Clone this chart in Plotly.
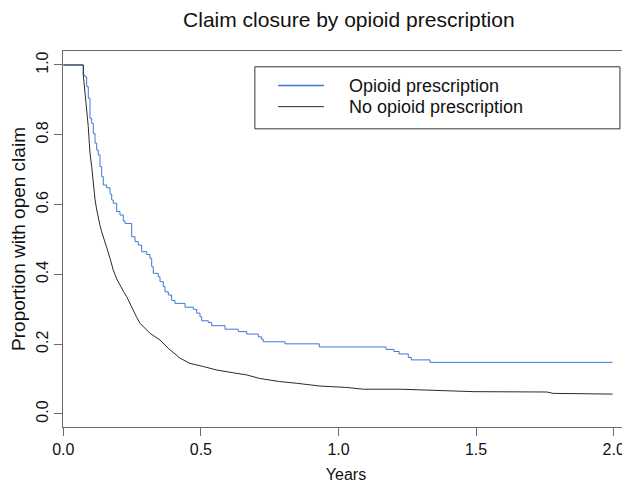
import plotly.graph_objects as go

# Kaplan-Meier style survival estimates
opioid_years = [0.0, 0.0727, 0.0789, 0.0850, 0.0908, 0.0970, 0.1032, 0.1090, 0.1152, 0.1214,
                0.1272, 0.1334, 0.1395, 0.1453, 0.1577, 0.1697, 0.1759, 0.1817, 0.1940, 0.2060,
                0.2180, 0.2242, 0.2485, 0.2605, 0.2725, 0.2849, 0.3031, 0.3150, 0.3212, 0.3270,
                0.3452, 0.3514, 0.3634, 0.3695, 0.3815, 0.3939, 0.4059, 0.4422, 0.4724, 0.4847,
                0.4967, 0.5029, 0.5269, 0.5392, 0.5876, 0.6359, 0.6664, 0.7086, 0.7209, 0.7267,
                0.8056, 0.9302, 1.1726, 1.2016, 1.2198, 1.2536, 1.2645, 1.3325, 1.9956]
opioid_surv = [1.000, 0.971, 0.966, 0.938, 0.905, 0.847, 0.833, 0.804, 0.776, 0.756,
               0.742, 0.709, 0.680, 0.656, 0.648, 0.630, 0.613, 0.604, 0.580, 0.570,
               0.553, 0.546, 0.508, 0.494, 0.484, 0.465, 0.457, 0.446, 0.422, 0.403,
               0.393, 0.379, 0.365, 0.350, 0.341, 0.325, 0.317, 0.306, 0.300, 0.289,
               0.279, 0.267, 0.262, 0.253, 0.243, 0.236, 0.229, 0.221, 0.214, 0.207,
               0.201, 0.192, 0.185, 0.179, 0.172, 0.162, 0.155, 0.148, 0.148]

no_opioid_years = [0.0, 0.0727, 0.0727, 0.0789, 0.0850, 0.0908, 0.0945, 0.0970, 0.1032, 0.1090,
                   0.1152, 0.1214, 0.1272, 0.1334, 0.1395, 0.1453, 0.1515, 0.1577, 0.1697, 0.1817,
                   0.1940, 0.2060, 0.2180, 0.2304, 0.2424, 0.2544, 0.2667, 0.2787, 0.3150, 0.3514,
                   0.3815, 0.4241, 0.4604, 0.5087, 0.5574, 0.6177, 0.6664, 0.7122, 0.7848, 0.8481,
                   0.9328, 1.0298, 1.0901, 1.2235, 1.3932, 1.4898, 1.7566, 1.7805, 1.9956]
no_opioid_surv = [1.000, 1.000, 0.971, 0.919, 0.880, 0.823, 0.776, 0.747, 0.709, 0.660,
                  0.615, 0.585, 0.560, 0.540, 0.522, 0.505, 0.490, 0.477, 0.446, 0.412,
                  0.387, 0.368, 0.352, 0.336, 0.315, 0.298, 0.277, 0.260, 0.231, 0.212,
                  0.188, 0.160, 0.145, 0.136, 0.126, 0.118, 0.112, 0.102, 0.093, 0.088,
                  0.080, 0.076, 0.071, 0.071, 0.067, 0.064, 0.063, 0.059, 0.057]

x_ticks = [0.0, 0.5, 1.0, 1.5, 2.0]
x_tick_labels = ["0.0", "0.5", "1.0", "1.5", "2.0"]
y_ticks = [0.0, 0.2, 0.4, 0.6, 0.8, 1.0]
y_tick_labels = ["0.0", "0.2", "0.4", "0.6", "0.8", "1.0"]

series_names = ["Opioid prescription", "No opioid prescription"]
series_colors = ["#3C78D8", "#2b2b2b"]

FONT = "Liberation Sans, Arial, sans-serif"

fig = go.Figure()
fig.add_trace(go.Scatter(x=opioid_years, y=opioid_surv, mode="lines",
                         line=dict(color=series_colors[0], width=1, shape="hv"),
                         name=series_names[0], showlegend=False))
fig.add_trace(go.Scatter(x=no_opioid_years, y=no_opioid_surv, mode="lines",
                         line=dict(color=series_colors[1], width=1),
                         name=series_names[1], showlegend=False))

axis_color = "#6a6a6a"
fig.update_layout(
    width=622, height=477,
    margin=dict(l=55, r=1, t=43, b=58),
    paper_bgcolor="white", plot_bgcolor="white",
    font=dict(family=FONT, color="#111111"),
    title=dict(text="Claim closure by opioid prescription", x=0.548, xanchor="center",
               y=0.975, yanchor="middle", font=dict(size=21, family=FONT, color="#111111")),
    xaxis=dict(range=[-0.0011, 2.0556], tickmode="array", tickvals=x_ticks, ticktext=x_tick_labels,
               showgrid=False, zeroline=False, showline=True, mirror=True, linecolor=axis_color,
               linewidth=1, ticks="outside", ticklen=8, tickcolor=axis_color,
               tickfont=dict(size=16, family=FONT, color="#111111"),
               title=dict(text="Years", font=dict(size=16, family=FONT, color="#111111"), standoff=11)),
    yaxis=dict(range=[-0.0373, 1.0401], tickmode="array", tickvals=y_ticks, ticktext=y_tick_labels,
               showgrid=False, zeroline=False, showline=True, mirror=True, linecolor=axis_color,
               linewidth=1, ticks="outside", ticklen=8, tickcolor=axis_color, tickangle=-90,
               tickfont=dict(size=16, family=FONT, color="#111111"),
               title=dict(text="Proportion with open claim", font=dict(size=19, family=FONT, color="#111111"),
                          standoff=3)),
)

# Legend drawn as a boxed key (paper coordinates)
leg_x0, leg_x1 = 0.339, 0.984
leg_y0, leg_y1 = 0.793, 0.958
fig.add_shape(type="rect", xref="paper", yref="paper", x0=leg_x0, x1=leg_x1, y0=leg_y0, y1=leg_y1,
              line=dict(color="#333333", width=1), fillcolor="white", layer="above")
row_y = [0.908, 0.852]
for name, color, yy in zip(series_names, series_colors, row_y):
    fig.add_shape(type="line", xref="paper", yref="paper", x0=0.380, x1=0.461, y0=yy, y1=yy,
                  line=dict(color=color, width=1.5 if color == series_colors[0] else 1), layer="above")
    fig.add_annotation(xref="paper", yref="paper", x=0.502, y=yy, text=name, showarrow=False,
                       xanchor="left", yanchor="middle",
                       font=dict(size=18, family=FONT, color="#111111"))

fig.write_html("out.html")
